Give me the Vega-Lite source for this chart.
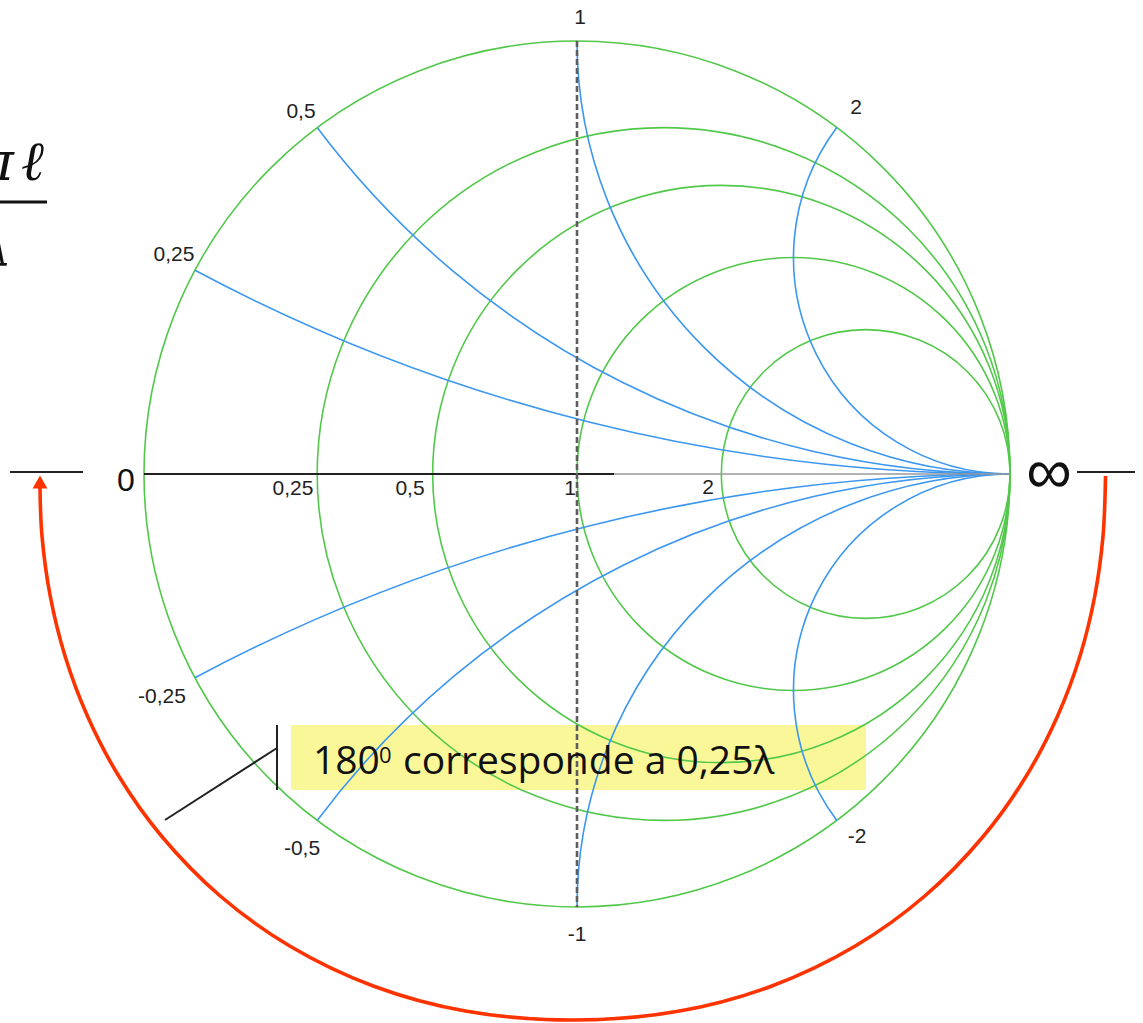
{
  "$schema": "https://vega.github.io/schema/vega-lite/v6.json",
  "width": 1143,
  "height": 1023,
  "padding": 0,
  "autosize": {"type": "none"},
  "background": "white",
  "config": {"view": {"stroke": null}},
  "datasets": {
    "resistance": [
      {"r": 0, "cx": 0, "cy": 0, "R": 1, "t0": 0, "t1": 6.283185},
      {"r": 0.25, "cx": 0.2, "cy": 0, "R": 0.8, "t0": 0, "t1": 6.283185},
      {"r": 0.5, "cx": 0.333333, "cy": 0, "R": 0.666667, "t0": 0, "t1": 6.283185},
      {"r": 1, "cx": 0.5, "cy": 0, "R": 0.5, "t0": 0, "t1": 6.283185},
      {"r": 2, "cx": 0.666667, "cy": 0, "R": 0.333333, "t0": 0, "t1": 6.283185}
    ],
    "reactance": [
      {"x": 0.25, "cx": 1, "cy": 4, "R": 4, "t0": 3.141593, "t1": 3.631553},
      {"x": 0.5, "cx": 1, "cy": 2, "R": 2, "t0": 3.141593, "t1": 4.068888},
      {"x": 1, "cx": 1, "cy": 1, "R": 1, "t0": 3.141593, "t1": 4.712389},
      {"x": 2, "cx": 1, "cy": 0.5, "R": 0.5, "t0": 3.141593, "t1": 5.355890},
      {"x": -0.25, "cx": 1, "cy": -4, "R": 4, "t0": -0.489960, "t1": 0},
      {"x": -0.5, "cx": 1, "cy": -2, "R": 2, "t0": -0.927295, "t1": 0},
      {"x": -1, "cx": 1, "cy": -1, "R": 1, "t0": -1.570796, "t1": 0},
      {"x": -2, "cx": 1, "cy": -0.5, "R": 0.5, "t0": -2.214297, "t1": 0}
    ],
    "axisLines": [
      {"part": "left", "x1": -1.3095, "x2": -1.1409, "y": 0.0046},
      {"part": "right", "x1": 1.1547, "x2": 1.2887, "y": 0.0046},
      {"part": "real", "x1": -1, "x2": 0.0855, "y": 0}
    ],
    "axisRest": [
      {"x1": 0.0855, "x2": 1, "y": 0}
    ],
    "imagAxis": [
      {"x": 0, "y1": 1, "y2": -1}
    ],
    "labels": [
      {"label": "1", "gx": 0.0069, "gy": 1.0531},
      {"label": "0,5", "gx": -0.6374, "gy": 0.8360},
      {"label": "0,25", "gx": -0.9307, "gy": 0.5058},
      {"label": "2", "gx": 0.6443, "gy": 0.8453},
      {"label": "-0,25", "gx": -0.9584, "gy": -0.5150},
      {"label": "-0,5", "gx": -0.6351, "gy": -0.8661},
      {"label": "-1", "gx": 0, "gy": -1.0647},
      {"label": "-2", "gx": 0.6467, "gy": -0.8383},
      {"label": "0,25", "gx": -0.6559, "gy": -0.0346},
      {"label": "0,5", "gx": -0.3857, "gy": -0.0346},
      {"label": "1", "gx": -0.0162, "gy": -0.0346},
      {"label": "2", "gx": 0.3025, "gy": -0.0323}
    ],
    "zeroEnd": [
      {"label": "0", "gx": -1.0416, "gy": -0.0162}
    ],
    "infEnd": [
      {"label": "∞", "gx": 1.0901, "gy": 0.0}
    ],
    "note": [
      {"x1": -0.6605, "x2": 0.6674, "y1": -0.5797, "y2": -0.7298}
    ],
    "noteMain": [
      {"label": "180", "gx": -0.6097, "gy": -0.6928},
      {"label": "corresponde a 0,25λ", "gx": -0.4018, "gy": -0.6928}
    ],
    "noteSup": [
      {"label": "0", "gx": -0.4573, "gy": -0.6674}
    ],
    "pointer": [
      {"x1": -0.6928, "y1": -0.5797, "x2": -0.6928, "y2": -0.7298},
      {"x1": -0.9515, "y1": -0.7991, "x2": -0.6928, "y2": -0.6328}
    ],
    "turn": [
      {"i": 1, "gx": 1.2206, "gy": -0.0046},
      {"i": 2, "gx": 1.2148, "gy": -0.1432},
      {"i": 3, "gx": 1.1958, "gy": -0.2818},
      {"i": 4, "gx": 1.1617, "gy": -0.4203},
      {"i": 5, "gx": 1.1099, "gy": -0.5589},
      {"i": 6, "gx": 1.0376, "gy": -0.6975},
      {"i": 7, "gx": 0.9390, "gy": -0.8360},
      {"i": 8, "gx": 0.8032, "gy": -0.9746},
      {"i": 9, "gx": 0.6427, "gy": -1.0901},
      {"i": 10, "gx": 0.4499, "gy": -1.1824},
      {"i": 11, "gx": 0.2370, "gy": -1.2402},
      {"i": 12, "gx": -0.0104, "gy": -1.2610},
      {"i": 13, "gx": -0.2577, "gy": -1.2402},
      {"i": 14, "gx": -0.4707, "gy": -1.1824},
      {"i": 15, "gx": -0.6635, "gy": -1.0901},
      {"i": 16, "gx": -0.8240, "gy": -0.9746},
      {"i": 17, "gx": -0.9598, "gy": -0.8360},
      {"i": 18, "gx": -1.0584, "gy": -0.6975},
      {"i": 19, "gx": -1.1307, "gy": -0.5589},
      {"i": 20, "gx": -1.1824, "gy": -0.4203},
      {"i": 21, "gx": -1.2166, "gy": -0.2818},
      {"i": 22, "gx": -1.2356, "gy": -0.1432},
      {"i": 23, "gx": -1.2402, "gy": -0.0323}
    ],
    "arrowHead": [
      {"gx": -1.2402, "gy": -0.0185}
    ],
    "fracBar": [
      {"x1": -1.40, "x2": -1.2240, "y": 0.6282}
    ],
    "fracTop": [
      {"label": "π", "gx": -1.3002, "gy": 0.6790},
      {"label": "ℓ", "gx": -1.2309, "gy": 0.6790}
    ],
    "fracBottom": [
      {"label": "λ", "gx": -1.3048, "gy": 0.4827}
    ]
  },
  "layer": [
    {
      "data": {"name": "note"},
      "mark": {"type": "rect", "color": "#faf68e", "opacity": 0.9},
      "encoding": {
        "x": {"field": "x1", "type": "quantitative", "scale": {"domain": [-1.33256, 1.30716], "nice": false, "zero": false}, "axis": null},
        "x2": {"field": "x2"},
        "y": {"field": "y1", "type": "quantitative", "scale": {"domain": [-1.2679, 1.09469], "nice": false, "zero": false}, "axis": null},
        "y2": {"field": "y2"}
      }
    },
    {
      "data": {"name": "resistance"},
      "mark": {"type": "arc", "filled": false, "stroke": "#52c84a", "strokeWidth": 1.6},
      "encoding": {
        "x": {"field": "cx", "type": "quantitative", "scale": {"domain": [-1.33256, 1.30716], "nice": false, "zero": false}, "axis": null},
        "y": {"field": "cy", "type": "quantitative", "scale": {"domain": [-1.2679, 1.09469], "nice": false, "zero": false}, "axis": null},
        "theta": {"field": "t0", "type": "quantitative", "scale": {"type": "linear", "domain": [0, 6.283185], "range": [0, 6.283185], "zero": false}},
        "theta2": {"field": "t1"},
        "radius": {"field": "R", "type": "quantitative", "scale": {"type": "linear", "domain": [0, 1], "range": [0, 433], "zero": true}},
        "radius2": {"field": "R"}
      }
    },
    {
      "data": {"name": "reactance"},
      "mark": {"type": "arc", "filled": false, "stroke": "#3b97f0", "strokeWidth": 1.6},
      "encoding": {
        "x": {"field": "cx", "type": "quantitative", "scale": {"domain": [-1.33256, 1.30716], "nice": false, "zero": false}, "axis": null},
        "y": {"field": "cy", "type": "quantitative", "scale": {"domain": [-1.2679, 1.09469], "nice": false, "zero": false}, "axis": null},
        "theta": {"field": "t0", "type": "quantitative", "scale": {"type": "linear", "domain": [0, 6.283185], "range": [0, 6.283185], "zero": false}},
        "theta2": {"field": "t1"},
        "radius": {"field": "R", "type": "quantitative", "scale": {"type": "linear", "domain": [0, 1], "range": [0, 433], "zero": true}},
        "radius2": {"field": "R"}
      }
    },
    {
      "data": {"name": "axisRest"},
      "mark": {"type": "rule", "color": "#9a9a9a", "strokeWidth": 1.3},
      "encoding": {
        "x": {"field": "x1", "type": "quantitative"},
        "x2": {"field": "x2"},
        "y": {"field": "y", "type": "quantitative"}
      }
    },
    {
      "data": {"name": "axisLines"},
      "mark": {"type": "rule", "color": "#222222", "strokeWidth": 2},
      "encoding": {
        "x": {"field": "x1", "type": "quantitative"},
        "x2": {"field": "x2"},
        "y": {"field": "y", "type": "quantitative"}
      }
    },
    {
      "data": {"name": "imagAxis"},
      "mark": {"type": "rule", "color": "#5e5e5e", "strokeWidth": 2.6, "strokeDash": [6, 3]},
      "encoding": {
        "x": {"field": "x", "type": "quantitative"},
        "y": {"field": "y1", "type": "quantitative"},
        "y2": {"field": "y2"}
      }
    },
    {
      "data": {"name": "labels"},
      "mark": {"type": "text", "font": "Liberation Sans", "fontSize": 21, "color": "#222222", "align": "center", "baseline": "middle"},
      "encoding": {
        "x": {"field": "gx", "type": "quantitative"},
        "y": {"field": "gy", "type": "quantitative"},
        "text": {"field": "label"}
      }
    },
    {
      "data": {"name": "zeroEnd"},
      "mark": {"type": "text", "font": "Liberation Sans", "fontSize": 32, "color": "#111111", "align": "center", "baseline": "middle"},
      "encoding": {
        "x": {"field": "gx", "type": "quantitative"},
        "y": {"field": "gy", "type": "quantitative"},
        "text": {"field": "label"}
      }
    },
    {
      "data": {"name": "infEnd"},
      "mark": {"type": "text", "font": "Liberation Sans", "fontSize": 64, "color": "#111111", "align": "center", "baseline": "middle"},
      "encoding": {
        "x": {"field": "gx", "type": "quantitative"},
        "y": {"field": "gy", "type": "quantitative"},
        "text": {"field": "label"}
      }
    },
    {
      "data": {"name": "noteMain"},
      "mark": {"type": "text", "font": "Open Sans", "fontSize": 39, "color": "#111111", "align": "left", "baseline": "alphabetic"},
      "encoding": {
        "x": {"field": "gx", "type": "quantitative"},
        "y": {"field": "gy", "type": "quantitative"},
        "text": {"field": "label"}
      }
    },
    {
      "data": {"name": "noteSup"},
      "mark": {"type": "text", "font": "Open Sans", "fontSize": 22, "color": "#111111", "align": "left", "baseline": "alphabetic"},
      "encoding": {
        "x": {"field": "gx", "type": "quantitative"},
        "y": {"field": "gy", "type": "quantitative"},
        "text": {"field": "label"}
      }
    },
    {
      "data": {"name": "pointer"},
      "mark": {"type": "rule", "color": "#222222", "strokeWidth": 2},
      "encoding": {
        "x": {"field": "x1", "type": "quantitative"},
        "y": {"field": "y1", "type": "quantitative"},
        "x2": {"field": "x2"},
        "y2": {"field": "y2"}
      }
    },
    {
      "data": {"name": "turn"},
      "mark": {"type": "line", "color": "#ff3300", "strokeWidth": 3.6, "interpolate": "catmull-rom"},
      "encoding": {
        "x": {"field": "gx", "type": "quantitative"},
        "y": {"field": "gy", "type": "quantitative"},
        "order": {"field": "i", "type": "quantitative"}
      }
    },
    {
      "data": {"name": "arrowHead"},
      "mark": {"type": "point", "shape": "triangle-up", "filled": true, "color": "#ff3300", "size": 220, "opacity": 1, "strokeWidth": 0},
      "encoding": {
        "x": {"field": "gx", "type": "quantitative"},
        "y": {"field": "gy", "type": "quantitative"}
      }
    },
    {
      "data": {"name": "fracBar"},
      "mark": {"type": "rule", "color": "#111111", "strokeWidth": 3, "clip": true},
      "encoding": {
        "x": {"field": "x1", "type": "quantitative"},
        "x2": {"field": "x2"},
        "y": {"field": "y", "type": "quantitative"}
      }
    },
    {
      "data": {"name": "fracTop"},
      "mark": {"type": "text", "font": "DejaVu Serif", "fontStyle": "italic", "fontSize": 55, "color": "#111111", "align": "right", "baseline": "alphabetic", "clip": true},
      "encoding": {
        "x": {"field": "gx", "type": "quantitative"},
        "y": {"field": "gy", "type": "quantitative"},
        "text": {"field": "label"}
      }
    },
    {
      "data": {"name": "fracBottom"},
      "mark": {"type": "text", "font": "DejaVu Serif", "fontStyle": "italic", "fontSize": 55, "color": "#111111", "align": "right", "baseline": "alphabetic", "clip": true},
      "encoding": {
        "x": {"field": "gx", "type": "quantitative"},
        "y": {"field": "gy", "type": "quantitative"},
        "text": {"field": "label"}
      }
    }
  ]
}
